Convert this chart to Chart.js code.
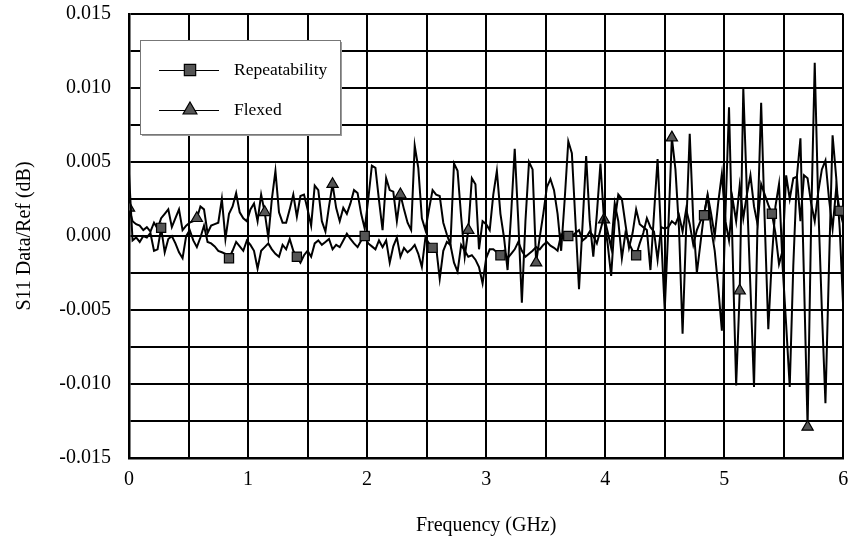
<!DOCTYPE html>
<html>
<head>
<meta charset="utf-8">
<title>S11 Data/Ref</title>
<script src="https://cdn.jsdelivr.net/npm/chart.js@4/dist/chart.umd.min.js"></script>
<style>
  html, body { margin: 0; padding: 0; background: #fff; }
  #wrap { width: 851px; height: 541px; }
</style>
</head>
<body>
<div id="wrap"><canvas id="s11Chart" width="851" height="541"></canvas></div>
<script>
// Data (values in 0.001 dB, one point every 0.03 GHz from 0 to 6 GHz)
const FREQ_STEP = 0.03;

const repeatability = [
  4.2, -0.3, -0.1, -0.4, 0.0, -0.1, 0.2, -1.0, -0.9, 0.55,
  -1.1, -0.2, 0.0, -0.5, -1.1, -1.5, 0.0, 0.4, -0.3, -0.75,
  -0.1, 0.7, -0.4, -0.5, -0.7, -1.0, -1.1, -1.2, -1.5, -1.0,
  -0.4, -0.7, -1.0, -0.3, -0.6, -1.0, -2.2, -1.0, -0.75, -0.5,
  -0.9, -1.2, -1.4, -0.6, -0.9, -0.2, -1.0, -1.4, -1.8, -1.3,
  -1.0, -1.4, -0.5, -0.3, -0.6, -0.4, -0.2, -0.9, -0.6, -0.75,
  -0.3, 0.15, -0.2, -0.5, -0.75, -0.3, 0.0, -0.5, -0.7, -0.9,
  -0.3, -0.75, -0.3, -1.8, -0.7, -0.1, -1.4, -0.8, -1.1, -0.9,
  -0.6, -1.2, -2.1, -0.1, -0.5, -0.8, -0.75, -2.9, -1.0, -0.4,
  -0.6, -1.8, -2.4, -0.6, -1.0, -1.4, -1.3, -1.6, -2.1, -3.2,
  -1.5, -0.9, -0.9, -1.1, -1.3, -1.0, -1.5, -1.2, -0.9, -0.4,
  -1.0, -1.4, -1.2, -1.0, -0.75, -0.9, -0.6, -0.4, -0.65, -0.8,
  -1.0, 0.1, -0.2, 0.0, 0.0, 0.2, 0.4, -0.3, -0.1, 0.3,
  0.0, -0.5, 0.4, 1.3, 0.3, -0.8, 2.2, 1.0, -1.5, 0.2,
  -0.5, -1.0, -1.3, -0.5, 0.2, 1.2, 0.6, 0.3, -1.6, 0.6,
  0.5, 0.6, 1.0, 0.8, 1.4, 0.3, 1.8, 0.8, -0.6, 0.4,
  1.0, 1.4, 2.8, 1.5, 0.0, 2.3, 4.2, 1.0, -0.3, 2.5,
  1.0, 3.4, 1.2, 2.8, 4.1, 2.0, 0.8, 3.5, 2.8, 2.1,
  1.5, 0.2, -1.9, -1.0, 4.1, 2.5, 3.9, 4.0, 1.0, 4.1,
  3.9, 2.2, 1.0, 3.0, 4.5, 5.1, 2.5, 0.5, 3.2, 1.7,
  0.8
];

const flexed = [
  1.9, 1.0, 0.8, 0.7, 0.4, 0.6, 0.3, 0.9, 0.5, 1.2,
  1.5, 1.8, 0.6, 1.2, 1.8, 0.4, 0.7, 0.9, 1.0, 1.2,
  2.0, 1.8, 0.2, 0.7, 0.8, 0.9, 2.5, -0.2, 1.5, 2.0,
  2.9, 1.6, 1.2, 1.0, 1.8, 2.2, 1.0, 2.8, 1.6, -0.1,
  2.5, 4.4, 1.6, 0.9, 0.9, 1.8, 2.8, 1.3, 2.7, 2.8,
  1.8, 0.7, 3.4, 3.1, 1.0, 0.3, 2.0, 3.5, 1.9, 1.0,
  1.9, 1.5, 2.2, 3.1, 2.9, 1.5, 0.5, 2.5, 4.75, 4.6,
  2.4, 0.4, 3.9, 3.1, 3.0, 1.0, 2.8, 1.8, 0.9, 0.4,
  6.1, 4.6, 1.2, 0.4, 1.8, 3.1, 2.8, 2.7, 0.9, 0.1,
  -0.6, 4.9, 4.4, 1.3, -1.4, 0.4, 3.9, 3.5, -0.9, 1.0,
  0.8, 0.4, 2.8, 4.4, 1.5, -0.1, -2.3, 1.5, 5.9, 1.0,
  -4.5, 1.0, 5.0, 4.5, -1.8, -0.1, 1.5, 3.3, 3.85, 3.1,
  1.5, -1.0, 2.5, 6.4, 5.6, 1.0, -3.6, 0.8, 5.4, 1.0,
  -1.4, 1.5, 4.9, 1.1, -0.5, -2.7, 1.0, 2.8, 2.5, 0.8,
  -0.8, 0.2, 1.8, 0.8, 0.6, 0.4, -2.3, 1.5, 5.2, 0.0,
  -5.0, 0.5, 6.65, 4.5, 0.5, -6.6, 0.5, 6.9, 1.0, -2.5,
  -0.5, 1.5, 2.7, 0.5, -1.0, -3.5, -6.4, 1.5, 8.7, -1.0,
  -10.1, -3.7, 10.0, 3.0, -3.5, -10.2, 1.0, 9.0, 1.0, -6.3,
  -1.5, 2.0, 3.5, -2.0, -6.0, -10.2, -2.0, 4.0, 6.6, -3.0,
  -12.9, 1.0, 11.7, 2.0, -5.0, -11.3, -2.0, 6.8, 4.0, 0.5,
  -5.0
];

// Tick labels
const freqTicks = [0, 1, 2, 3, 4, 5, 6];
const s11Ticks = [-0.015, -0.010, -0.005, 0.000, 0.005, 0.010, 0.015];

// Marker every 19th sample (Flexed starts at 0, Repeatability at 9)
const MARKER_EVERY = 19;

const FONT = "'Liberation Serif', 'Times New Roman', serif";

const toPoints = values => values.map((v, i) => ({ x: i * FREQ_STEP, y: v / 1000 }));

const markerRadius = (offset, r) => ctx =>
  (ctx.index % MARKER_EVERY === offset ? r : 0);

const isTick = (list, v) => list.some(t => Math.abs(t - v) < 1e-7);

// Legend drawn inside the plot
const boxLegend = {
  id: 'boxLegend',
  afterDraw(chart) {
    const ctx = chart.ctx;
    const x = 140, y = 40, w = 200, h = 94;
    ctx.save();
    ctx.fillStyle = '#9a9a9a';
    ctx.fillRect(x + 2, y + 2, w, h);
    ctx.fillStyle = '#fff';
    ctx.fillRect(x, y, w, h);
    ctx.strokeStyle = '#777';
    ctx.lineWidth = 1;
    ctx.strokeRect(x + 0.5, y + 0.5, w, h);

    const rows = [
      { label: 'Repeatability', style: 'rect', ly: 70 },
      { label: 'Flexed', style: 'triangle', ly: 110 }
    ];
    rows.forEach(row => {
      ctx.strokeStyle = '#000';
      ctx.lineWidth = 1;
      ctx.beginPath();
      ctx.moveTo(159, row.ly + 0.5);
      ctx.lineTo(219, row.ly + 0.5);
      ctx.stroke();
      ctx.fillStyle = '#555';
      ctx.strokeStyle = '#000';
      ctx.lineWidth = 1.2;
      Chart.helpers.drawPoint(ctx, { pointStyle: row.style, radius: 8, borderWidth: 1.2 }, 190, row.ly);
      ctx.fillStyle = '#000';
      ctx.font = '17.5px ' + FONT;
      ctx.textBaseline = 'middle';
      ctx.textAlign = 'left';
      ctx.fillText(row.label, 234, row.ly);
    });
    ctx.restore();
  }
};

// Chart
function drawChart(canvasId) {
  const el = document.getElementById(canvasId);
  if (!el) return;

  new Chart(el, {
    type: 'line',
    data: {
      datasets: [
        {
          label: 'Repeatability',
          data: toPoints(repeatability),
          borderColor: '#000',
          borderWidth: 2,
          pointStyle: 'rect',
          pointRadius: markerRadius(9, 6.5),
          pointBackgroundColor: '#555',
          pointBorderColor: '#000',
          pointBorderWidth: 1.2,
          tension: 0
        },
        {
          label: 'Flexed',
          data: toPoints(flexed),
          borderColor: '#000',
          borderWidth: 2,
          pointStyle: 'triangle',
          pointRadius: markerRadius(0, 6.5),
          pointBackgroundColor: '#555',
          pointBorderColor: '#000',
          pointBorderWidth: 1.2,
          tension: 0
        }
      ]
    },
    options: {
      responsive: false,
      animation: false,
      devicePixelRatio: 1,
      layout: { padding: { top: 14, right: 6, bottom: 0, left: 0 } },
      plugins: {
        legend: { display: false },
        tooltip: { enabled: false }
      },
      scales: {
        x: {
          type: 'linear',
          min: 0,
          max: 6,
          afterFit: scale => { scale.height = 83; },
          grid: { color: '#000', lineWidth: 2, drawTicks: true, tickLength: 10, tickColor: 'rgba(0,0,0,0)' },
          border: { color: '#000', width: 2.5 },
          ticks: {
            stepSize: 0.5,
            autoSkip: false,
            maxRotation: 0,
            padding: 0,
            color: '#000',
            font: { family: FONT, size: 20 },
            callback: v => (isTick(freqTicks, v) ? String(Math.round(v)) : '')
          },
          title: {
            display: true,
            text: 'Frequency (GHz)',
            color: '#000',
            font: { family: FONT, size: 20 },
            padding: { top: 0, bottom: 3 }
          }
        },
        y: {
          type: 'linear',
          min: -0.015,
          max: 0.015,
          afterFit: scale => { scale.width = 129; },
          grid: { color: '#000', lineWidth: 2, drawTicks: true, tickLength: 18, tickColor: 'rgba(0,0,0,0)' },
          border: { color: '#000', width: 2.5 },
          ticks: {
            stepSize: 0.0025,
            autoSkip: false,
            padding: 0,
            color: '#000',
            font: { family: FONT, size: 20 },
            callback: v => (isTick(s11Ticks, v) ? v.toFixed(3) : '')
          },
          title: {
            display: true,
            text: 'S11 Data/Ref (dB)',
            color: '#000',
            font: { family: FONT, size: 20 },
            padding: { top: 13, bottom: 0 }
          }
        }
      }
    },
    plugins: [boxLegend]
  });
}

document.addEventListener('DOMContentLoaded', () => {
  drawChart('s11Chart');
});
</script>
</body>
</html>
